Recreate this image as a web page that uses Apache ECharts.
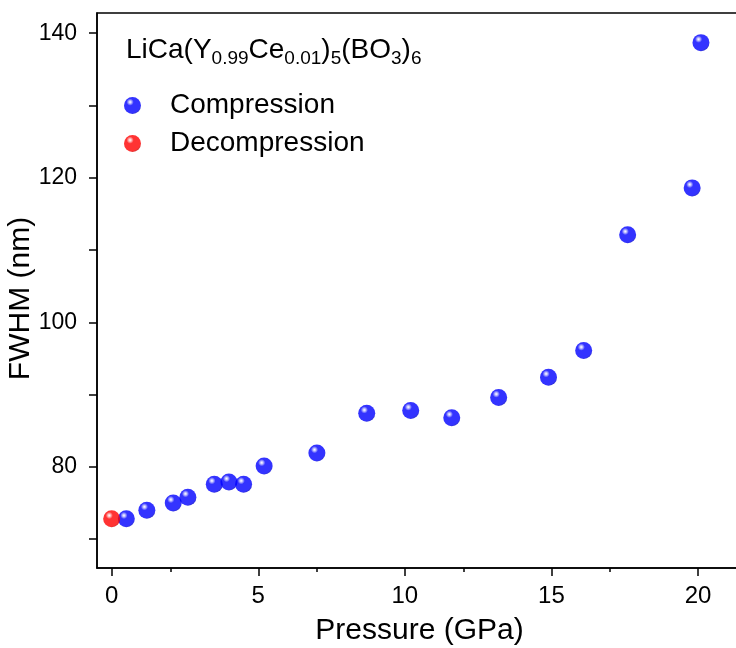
<!DOCTYPE html>
<html>
<head>
<meta charset="utf-8">
<script src="https://cdn.jsdelivr.net/npm/echarts@6/dist/echarts.min.js"></script>
<style>html,body{margin:0;padding:0;background:#fff}#c{width:736px;height:648px}</style>
</head>
<body>
<div id="c"></div>
<script>
var compressionP = [0.5, 1.2, 2.1, 2.6, 3.5, 4.0, 4.5, 5.2, 7.0, 8.7, 10.2, 11.6, 13.2, 14.9, 16.1, 17.6, 19.8, 20.1];
var compressionW = [72.8, 74.0, 75.0, 75.8, 77.6, 77.9, 77.6, 80.1, 81.9, 87.4, 87.8, 86.8, 89.6, 92.4, 96.1, 112.1, 118.6, 138.7];
var decompressionP = [0.0];
var decompressionW = [72.8];
var xTicks = [0, 5, 10, 15, 20];
var yTicks = [80, 100, 120, 140];

function pairs(a, b) { return a.map(function (v, i) { return [v, b[i]]; }); }
function sphere(light, mid, edge) {
  return {
    type: 'radial', x: 0.36, y: 0.3, r: 0.75,
    colorStops: [
      { offset: 0, color: '#ffffff' },
      { offset: 0.1, color: light },
      { offset: 0.28, color: mid },
      { offset: 0.85, color: mid },
      { offset: 1, color: edge }
    ]
  };
}
var FONT = 'Liberation Sans, Arial, sans-serif';
var chart = echarts.init(document.getElementById('c'), null, { renderer: 'canvas' });
chart.setOption({
  animation: false,
  backgroundColor: '#ffffff',
  grid: { left: 97, top: 13, right: -6, bottom: 80, show: true, borderColor: '#000', borderWidth: 1.5, containLabel: false, outerBoundsMode: 'none' },
  title: {
    left: 121, top: 27,
    text: '{n|LiCa(Y}{s|0.99}{n|Ce}{s|0.01}{n|)}{s|5}{n|(BO}{s|3}{n|)}{s|6}',
    textStyle: {
      fontWeight: 'normal',
      rich: {
        n: { fontFamily: FONT, fontSize: 28, fontWeight: 'normal', color: '#000', lineHeight: 36, verticalAlign: 'middle' },
        s: { fontFamily: FONT, fontSize: 19, fontWeight: 'normal', color: '#000', lineHeight: 36, verticalAlign: 'bottom', padding: [12, 0, 0, 0] }
      }
    }
  },
  legend: {
    orient: 'vertical', left: 119, top: 85, itemWidth: 17, itemHeight: 17, itemGap: 7,
    icon: 'circle',
    textStyle: { fontFamily: FONT, fontSize: 28, color: '#000', lineHeight: 31, padding: [0, 0, 0, 24] },
    data: ['Compression', 'Decompression']
  },
  xAxis: {
    type: 'value', min: -0.5, max: 21.5, interval: 5,
    name: 'Pressure (GPa)', nameLocation: 'middle', nameGap: 48, nameMoveOverlap: false,
    nameTextStyle: { fontFamily: FONT, fontSize: 30, color: '#000' },
    axisLine: { show: true, onZero: false, lineStyle: { color: '#000', width: 1.5 } },
    axisTick: { show: true, inside: false, length: 8, lineStyle: { color: '#000', width: 1.5 }, customValues: xTicks },
    minorTick: { show: true, splitNumber: 2, length: 4, lineStyle: { color: '#000', width: 1.5 } },
    axisLabel: { fontFamily: FONT, fontSize: 24, color: '#000', margin: 16, customValues: xTicks },
    splitLine: { show: false }
  },
  yAxis: {
    type: 'value', min: 66, max: 142.8,
    name: 'FWHM (nm)', nameLocation: 'middle', nameGap: 61, nameRotate: 90, nameMoveOverlap: false,
    nameTextStyle: { fontFamily: FONT, fontSize: 30, color: '#000', padding: [0, 16, 0, 0] },
    axisLine: { show: true, onZero: false, lineStyle: { color: '#000', width: 1.5 } },
    axisTick: { show: true, inside: false, length: 8, lineStyle: { color: '#000', width: 1.5 }, customValues: [70, 80, 90, 100, 110, 120, 130, 140] },
    axisLabel: { fontFamily: FONT, fontSize: 23, color: '#000', margin: 20, customValues: yTicks },
    splitLine: { show: false }
  },
  series: [
    {
      name: 'Compression', type: 'scatter', symbol: 'circle', symbolSize: 17,
      itemStyle: { color: sphere('#b8b8ff', '#0000ff', '#0000c0') },
      data: pairs(compressionP, compressionW)
    },
    {
      name: 'Decompression', type: 'scatter', symbol: 'circle', symbolSize: 17,
      itemStyle: { color: sphere('#ffb8b8', '#ff0000', '#c00000') },
      data: pairs(decompressionP, decompressionW)
    }
  ]
});
</script>
</body>
</html>
